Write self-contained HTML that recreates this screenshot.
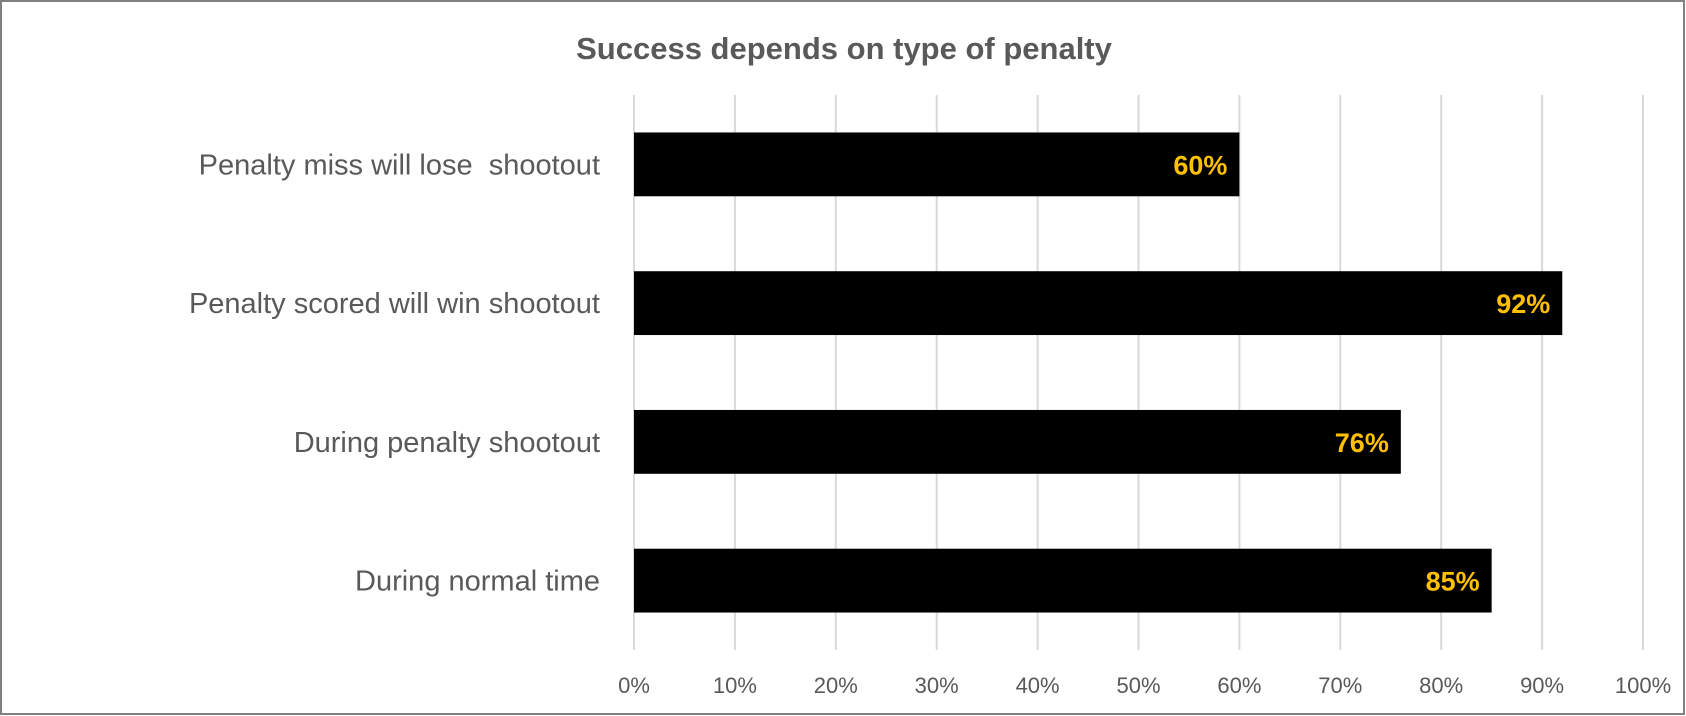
<!DOCTYPE html>
<html><head><meta charset="utf-8"><style>
html,body{margin:0;padding:0;background:#fff}
svg{display:block}
text{font-family:"Liberation Sans",sans-serif}
</style></head><body>
<svg width="1686" height="716" viewBox="0 0 1686 716">
<rect x="1" y="1" width="1683" height="713" fill="#fff" stroke="#808080" stroke-width="2"/>
<text x="844" y="59" text-anchor="middle" font-size="31" font-weight="bold" fill="#595959">Success depends on type of penalty</text>
<g id="grid"></g><g id="bars"></g><g id="labels"></g>
</svg>
<script>
const categories=["Penalty miss will lose  shootout","Penalty scored will win shootout","During penalty shootout","During normal time"];
const values=[60,92,76,85];
const ticks=[0,10,20,30,40,50,60,70,80,90,100];
const x0=634,x1=1643,yTop=95,yBot=650;
const xs=v=>x0+(x1-x0)*v/100;
const band=(yBot-yTop)/categories.length;
const NS="http://www.w3.org/2000/svg";
const grid=document.getElementById('grid'),bars=document.getElementById('bars'),labels=document.getElementById('labels');
function mk(tag,attrs,parent,txt){const e=document.createElementNS(NS,tag);for(const k in attrs)e.setAttribute(k,attrs[k]);if(txt!==undefined)e.textContent=txt;parent.appendChild(e);return e;}
ticks.forEach(t=>{
 const l=mk('line',{x1:xs(t),x2:xs(t),y1:yTop,y2:yBot,stroke:'#d9d9d9','stroke-width':2},grid);
 
 
 const tx=mk('text',{x:xs(t),y:693,'text-anchor':'middle','font-size':22,fill:'#595959'},labels,t+'%');
 
 
});
categories.forEach((c,i)=>{
 const cy=yTop+band*(i+0.5),h=band*0.46;
 const r=mk('rect',{x:xs(0),y:cy-h/2,width:xs(values[i])-xs(0),height:h,fill:'#000'},bars);
 
 
 const v=mk('text',{x:xs(values[i])-12,y:cy+10,'text-anchor':'end','font-size':27,'font-weight':'bold',fill:'#FFC000'},labels,values[i]+'%');
 
 
 const cl=mk('text',{x:600,y:cy+10,'text-anchor':'end','font-size':29,fill:'#595959','xml:space':'preserve'},labels,c);
 cl.setAttribute('style','white-space:pre');
 
 
});
</script>
</body></html>
